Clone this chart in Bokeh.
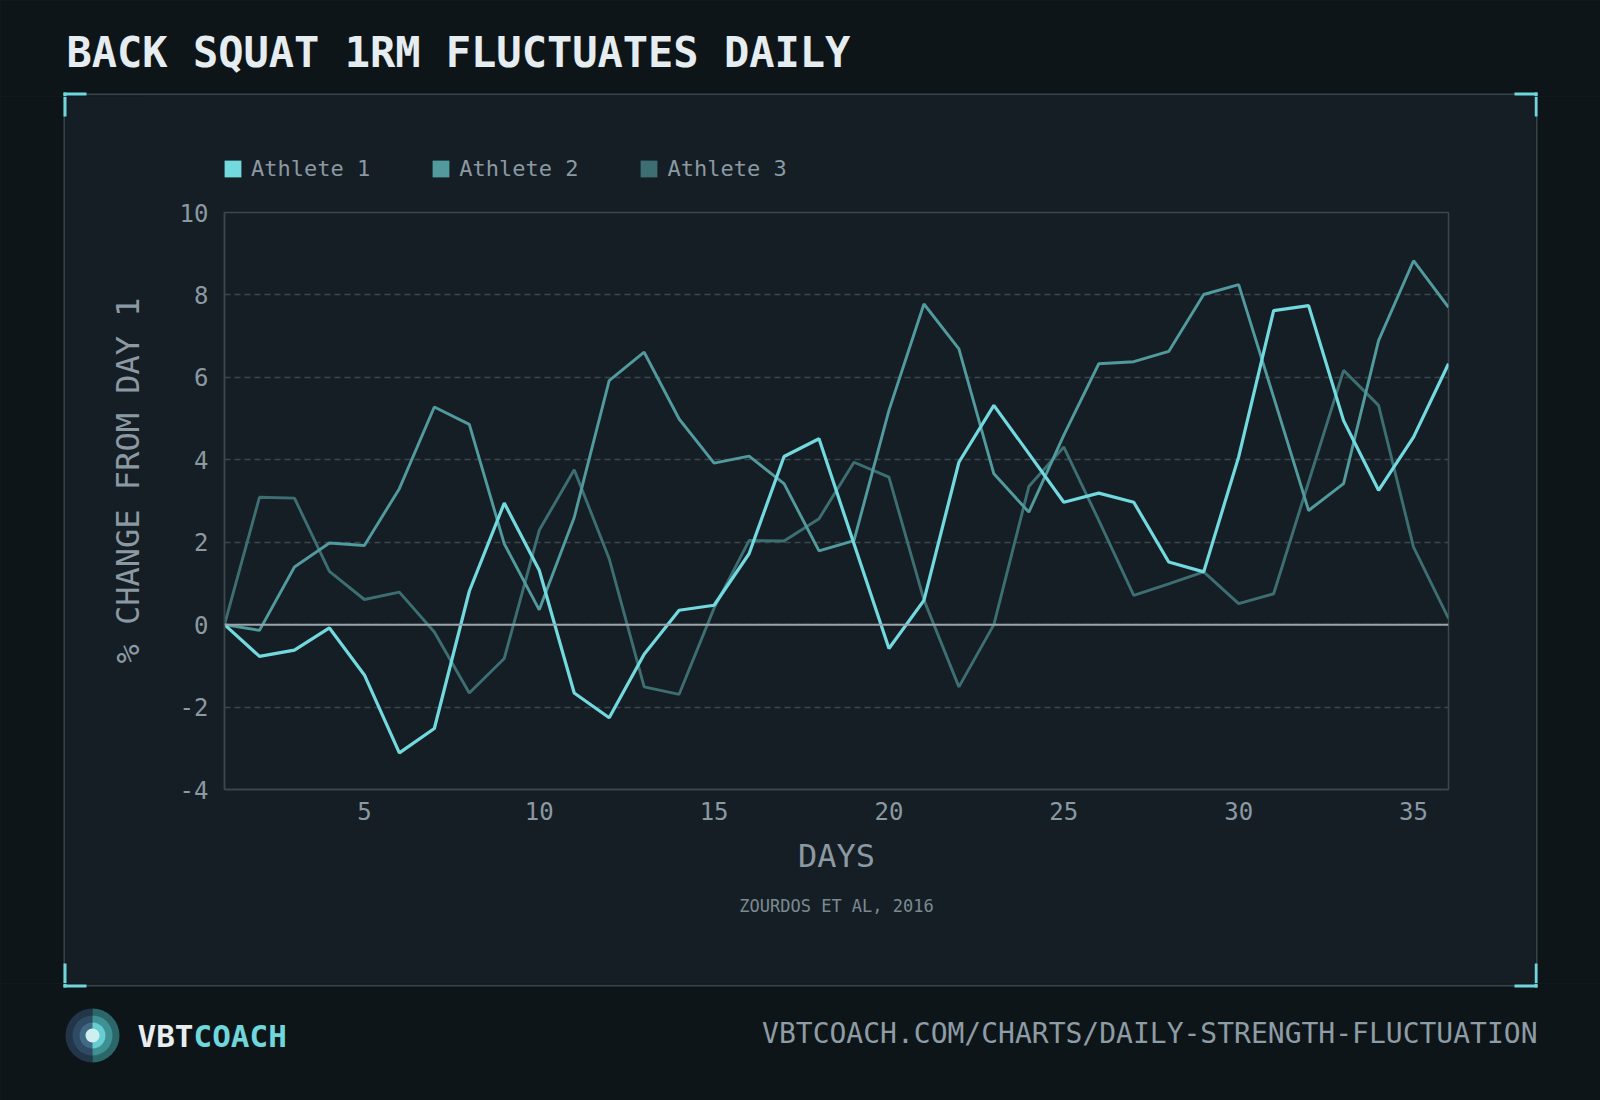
import numpy as np
from bokeh.plotting import figure
from bokeh.layouts import column, row
from bokeh.models import (Range1d, FixedTicker, Span, Label, Legend, LegendItem, Title)
from bokeh.embed import file_html
from bokeh.resources import INLINE

# ---------------- data ----------------
days = [1, 2, 3, 4, 5, 6, 7, 8, 9, 10, 11, 12, 13, 14, 15, 16, 17, 18,
        19, 20, 21, 22, 23, 24, 25, 26, 27, 28, 29, 30, 31, 32, 33, 34, 35, 36]
athlete_1 = [0, -0.77, -0.62, -0.08, -1.22, -3.11, -2.52, 0.81, 2.95, 1.32,
             -1.66, -2.26, -0.72, 0.35, 0.47, 1.72, 4.08, 4.51, 1.96, -0.58,
             0.59, 3.94, 5.32, 4.15, 2.97, 3.19, 2.97, 1.52, 1.28, 4.07,
             7.62, 7.74, 4.95, 3.26, 4.55, 6.33]
athlete_2 = [0, -0.14, 1.40, 1.98, 1.92, 3.30, 5.28, 4.86, 1.96, 0.36,
             2.60, 5.92, 6.61, 4.99, 3.92, 4.09, 3.42, 1.79, 2.04, 5.20,
             7.78, 6.69, 3.66, 2.73, 4.60, 6.33, 6.38, 6.63, 8.01, 8.25,
             5.52, 2.77, 3.42, 6.89, 8.83, 7.70]
athlete_3 = [0, 3.09, 3.07, 1.29, 0.61, 0.79, -0.18, -1.66, -0.82, 2.29,
             3.76, 1.60, -1.51, -1.69, 0.40, 2.04, 2.03, 2.57, 3.94, 3.58,
             0.60, -1.51, 0.00, 3.35, 4.31, 2.53, 0.71, 0.99, 1.28, 0.51,
             0.75, 3.46, 6.17, 5.32, 1.88, 0.15]
series_names = ["Athlete 1", "Athlete 2", "Athlete 3"]
series_colors = ["#72dadf", "#519a9e", "#3c6e72"]
x_ticks = [5, 10, 15, 20, 25, 30, 35]
y_ticks = [-4, -2, 0, 2, 4, 6, 8, 10]

title_text = "BACK SQUAT 1RM FLUCTUATES DAILY"
x_label = "DAYS"
y_label = "% CHANGE FROM DAY 1"
source_text = "ZOURDOS ET AL, 2016"
brand_a, brand_b = "VBT", "COACH"
url_text = "VBTCOACH.COM/CHARTS/DAILY-STRENGTH-FLUCTUATION"

# ---------------- style / layout ----------------
FONT = "DejaVu Sans Mono"
OUTER_BG = "#0e1519"
PANEL_BG = "#161e25"
PANEL_EDGE = "#34434a"
CYAN = "#6fd6db"
MUTED = "#8a99a2"
GRIDC = "#3a474e"

W, H = 1600, 1100
HEAD_H, FOOT_H = 96, 117
MID_H = H - HEAD_H - FOOT_H          # 887
BAND_H = 100                         # legend band above the chart
LEFT_W, RIGHT_W = 145, 66
MAIN_W = W - LEFT_W - RIGHT_W        # 1389
PL, PR, PT, PB = 63, 1537, 93, 986   # panel card (page px)
FL, FR, FT, FB = 224, 1448, 212, 789 # plot frame (page px)
BR_LEN, BR_T = 23, 3


def canvas(w, h, bg=OUTER_BG):
    f = figure(width=w, height=h, x_range=Range1d(0, w), y_range=Range1d(h, 0),
               output_backend="svg", toolbar_location=None, min_border=0,
               x_axis_location=None, y_axis_location=None, title=None,
               styles={"background-color": PANEL_BG})
    f.frame_align = False
    f.grid.visible = False
    f.outline_line_color = None
    f.border_fill_color = bg
    f.background_fill_color = bg
    return f


def box(f, l, r, t, b, color):
    f.quad(left=[l], right=[r], top=[t], bottom=[b], fill_color=color, line_color=None)


# ---------------- header ----------------
head = canvas(W, HEAD_H)
box(head, PL, PR, PT, HEAD_H, PANEL_BG)
head.segment(x0=[PL], y0=[PT + 0.75], x1=[PR], y1=[PT + 0.75], line_color=PANEL_EDGE, line_width=1.5)
box(head, PL, PL + BR_LEN, PT - 1, PT + 2, CYAN)
box(head, PL, PL + BR_T, PT - 1, HEAD_H, CYAN)
box(head, PR - BR_LEN, PR, PT - 1, PT + 2, CYAN)
box(head, PR - BR_T, PR, PT - 1, HEAD_H, CYAN)
head.add_layout(Label(x=66, y=52, text=title_text, text_font=FONT, text_font_size="42px",
                      text_font_style="bold", text_color="#e6edf0",
                      text_align="left", text_baseline="alphabetic"))

# ---------------- left strip ----------------
left = canvas(LEFT_W, MID_H)
box(left, PL, LEFT_W, 0, MID_H, PANEL_BG)
left.segment(x0=[PL + 0.75], y0=[0], x1=[PL + 0.75], y1=[MID_H], line_color=PANEL_EDGE, line_width=1.5)
box(left, PL, PL + BR_T, 0, 116 - HEAD_H, CYAN)
box(left, PL, PL + BR_T, PB - 23 - HEAD_H, MID_H, CYAN)
left.add_layout(Label(x=127, y=480 - HEAD_H, text=y_label, angle=np.pi / 2,
                      text_font=FONT, text_font_size="32px", text_color=MUTED,
                      text_align="center", text_baseline="middle"))

# ---------------- right strip ----------------
rx = W - RIGHT_W
right = canvas(RIGHT_W, MID_H)
box(right, 0, PR - rx, 0, MID_H, PANEL_BG)
right.segment(x0=[PR - rx - 0.75], y0=[0], x1=[PR - rx - 0.75], y1=[MID_H], line_color=PANEL_EDGE, line_width=1.5)
box(right, PR - rx - BR_T, PR - rx, 0, 116 - HEAD_H, CYAN)
box(right, PR - rx - BR_T, PR - rx, PB - 23 - HEAD_H, MID_H, CYAN)

# ---------------- footer ----------------
fy = HEAD_H + MID_H
foot = canvas(W, FOOT_H)
box(foot, PL, PR, 0, PB - fy, PANEL_BG)
foot.segment(x0=[PL], y0=[PB - fy - 0.75], x1=[PR], y1=[PB - fy - 0.75], line_color=PANEL_EDGE, line_width=1.5)
box(foot, PL, PL + BR_LEN, PB - fy - 2, PB - fy + 1, CYAN)
box(foot, PL, PL + BR_T, 0, PB - fy + 1, CYAN)
box(foot, PR - BR_LEN, PR, PB - fy - 2, PB - fy + 1, CYAN)
box(foot, PR - BR_T, PR, 0, PB - fy + 1, CYAN)

cx, cy = 92, 1035 - fy
ring_r = [27, 20, 13]
left_cols = ["#233549", "#2f4a63", "#416885"]
right_cols = ["#2b6669", "#3e9093", "#66cdd1"]
for r, lc, rc in zip(ring_r, left_cols, right_cols):
    foot.wedge(x=[cx], y=[cy], radius=r, start_angle=np.pi / 2, end_angle=3 * np.pi / 2,
               fill_color=lc, line_color=None)
    foot.wedge(x=[cx], y=[cy], radius=r, start_angle=-np.pi / 2, end_angle=np.pi / 2,
               fill_color=rc, line_color=None)
foot.circle(x=[cx], y=[cy], radius=7, fill_color="#cdeff0", line_color=None)
foot.add_layout(Label(x=137, y=cy, text=brand_a, text_font=FONT, text_font_size="31px",
                      text_font_style="bold", text_color="#e8eef0",
                      text_align="left", text_baseline="middle"))
foot.add_layout(Label(x=137 + 3 * 0.602 * 31, y=cy, text=brand_b, text_font=FONT,
                      text_font_size="31px", text_font_style="bold", text_color=CYAN,
                      text_align="left", text_baseline="middle"))
foot.add_layout(Label(x=PR, y=cy - 2, text=url_text, text_font=FONT, text_font_size="28px",
                      text_color="#8d9ca5", text_align="right", text_baseline="middle"))

# ---------------- legend band ----------------
band = canvas(MAIN_W, BAND_H, bg=PANEL_BG)
# zero-size quads: invisible in the band, give square swatches to the legend
swatches = [band.quad(left=[days[0]], right=[days[0]], top=[0], bottom=[0],
                      fill_color=c, line_color=None) for c in series_colors]
legend = Legend(items=[LegendItem(label=n, renderers=[r]) for n, r in zip(series_names, swatches)],
                orientation="horizontal", location=(FL - LEFT_W - 2, BAND_H - (159 - HEAD_H) - 22),
                padding=0, margin=0, spacing=60, glyph_width=21, glyph_height=21,
                label_standoff=8, label_text_font=FONT, label_text_font_size="22px",
                label_text_color=MUTED, background_fill_alpha=0, border_line_color=None)
band.add_layout(legend)

# ---------------- main chart ----------------
top_y = HEAD_H + BAND_H
p = figure(width=MAIN_W, height=MID_H - BAND_H, x_range=Range1d(1, 36), y_range=Range1d(-4, 10),
           output_backend="svg", toolbar_location=None, title=None,
           min_border_left=FL - LEFT_W, min_border_right=(W - RIGHT_W) - FR,
           min_border_top=FT - top_y, min_border_bottom=(HEAD_H + MID_H) - FB,
           styles={"background-color": PANEL_BG})
p.frame_align = False
p.border_fill_color = PANEL_BG
p.background_fill_color = PANEL_BG
p.outline_line_color = GRIDC
p.outline_line_width = 1.5

p.xaxis.ticker = FixedTicker(ticks=x_ticks)
p.yaxis.ticker = FixedTicker(ticks=y_ticks)
p.yaxis.major_label_overrides = {t: str(t) for t in y_ticks}
for ax in (p.xaxis, p.yaxis):
    ax.major_tick_out = 0
    ax.major_tick_in = 0
    ax.minor_tick_out = 0
    ax.minor_tick_in = 0
    ax.axis_line_color = GRIDC
    ax.axis_line_width = 1.5
    ax.major_label_text_font = FONT
    ax.major_label_text_font_size = "24px"
    ax.major_label_text_color = MUTED
p.xaxis.major_label_standoff = 12
p.yaxis.major_label_standoff = 16
p.xaxis.axis_label = x_label
p.xaxis.axis_label_text_font = FONT
p.xaxis.axis_label_text_font_size = "32px"
p.xaxis.axis_label_text_font_style = "normal"
p.xaxis.axis_label_text_color = MUTED
p.xaxis.axis_label_standoff = 14

p.xgrid.visible = False
p.ygrid.grid_line_color = GRIDC
p.ygrid.grid_line_width = 1.5
p.ygrid.grid_line_dash = "6 4"

p.add_layout(Span(location=0, dimension="width", line_color="#9aa6ac", line_width=2))

series = [athlete_1, athlete_2, athlete_3]
for i in [2, 1, 0]:
    p.line(days, series[i], line_color=series_colors[i],
           line_width=3.2 if i == 0 else 2.9)

p.add_layout(Title(text=source_text, align="center", text_font=FONT, text_font_size="17px",
                   text_font_style="normal", text_color="#7b8a92", standoff=33), "below")

mid = column(band, p, spacing=0, styles={"background-color": PANEL_BG})
layout = column(head, row(left, mid, right, spacing=0, styles={"background-color": PANEL_BG}),
                foot, spacing=0, styles={"background-color": PANEL_BG})
open("out.html", "w").write(file_html(layout, INLINE))
